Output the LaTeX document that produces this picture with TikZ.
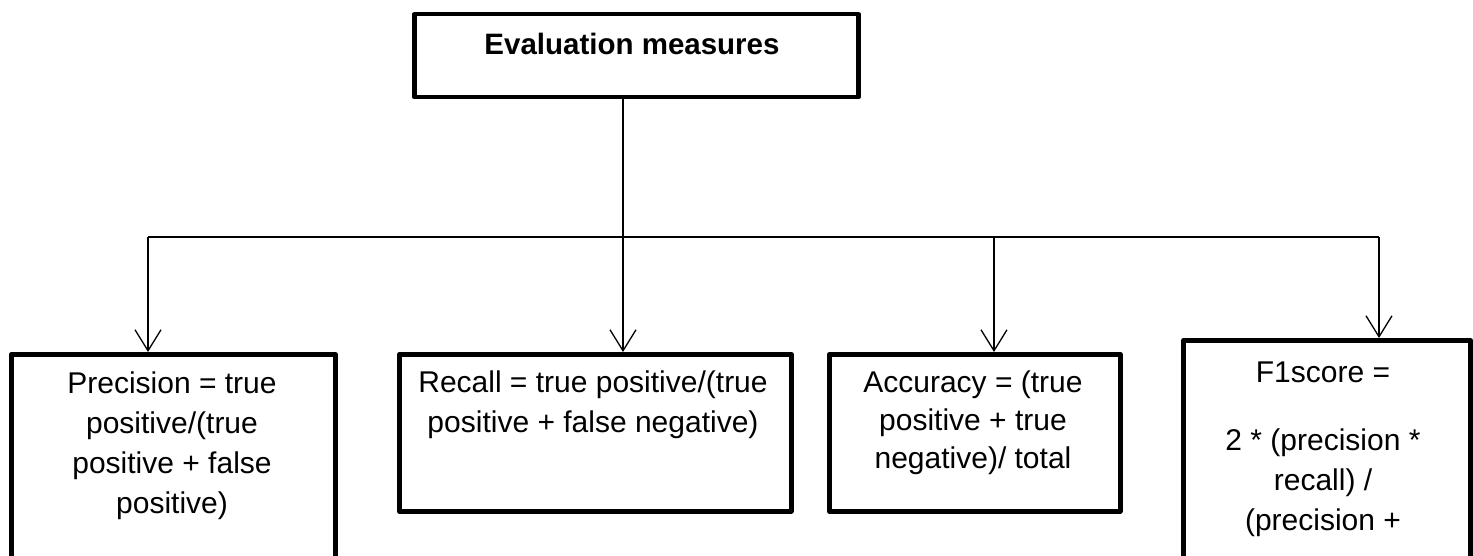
\documentclass[tikz,border=0pt]{standalone}
\usepackage{fontspec}
\setmainfont{Liberation Sans}
\usetikzlibrary{arrows.meta}
\tikzset{
  box/.style={draw, line width=4.5pt, line join=round, inner sep=0pt, anchor=north west},
  conn/.style={line width=1.3pt},
  arr/.style={conn, -{Straight Barb[length=21pt,width=26pt]}},
  txt/.style={inner sep=0pt, anchor=base, font=\fontsize{30}{40}\selectfont},
  ttl/.style={inner sep=0pt, anchor=base, font=\fontsize{29.5}{36}\selectfont\bfseries}
}
\begin{document}
\begin{tikzpicture}[x=1pt,y=-1pt]
\clip (0,0) rectangle (1473,556);
% boxes
\node[box, minimum width=444pt, minimum height=83pt] (top) at (412,12) {};
\node[box, minimum width=324pt, minimum height=300pt] (prec) at (9,352) {};
\node[box, minimum width=392pt, minimum height=157pt] (rec) at (397,352) {};
\node[box, minimum width=291pt, minimum height=157pt] (acc) at (827,352) {};
\node[box, line width=5pt, minimum width=287pt, minimum height=300pt] (fone) at (1181,338) {};
% texts
\node[ttl] (ttltxt) at (632,55) {Evaluation measures};
\node[txt] (ptxt) at (172,393) {\begin{tabular}[t]{@{}c@{}}Precision = true\\positive/(true\\positive + false\\positive)\end{tabular}};
\node[txt] (rtxt) at (593,392) {\begin{tabular}[t]{@{}c@{}}Recall = true positive/(true\\positive + false negative)\end{tabular}};
\node[txt, font=\fontsize{30}{38}\selectfont] (atxt) at (973,392) {\begin{tabular}[t]{@{}c@{}}Accuracy = (true\\positive + true\\negative)/ total\end{tabular}};
\node[txt] (ftxt) at (1323,382) {\begin{tabular}[t]{@{}c@{}}F1score =\\[28pt]2 * (precision *\\recall) /\\(precision +\end{tabular}};
% connectors
\coordinate (j1) at (148,237);
\coordinate (j2) at (623,237);
\coordinate (j3) at (994,237);
\coordinate (j4) at (1379,237);
\draw[line width=1.8pt] (j1) -- (j4);
\draw[arr] (top.south -| j2) -- (j2 |- rec.north);
\draw[arr] (j1) -- (j1 |- prec.north);
\draw[arr] (j3) -- (j3 |- acc.north);
\draw[arr] (j4) -- (j4 |- fone.north);
\end{tikzpicture}
\end{document}
